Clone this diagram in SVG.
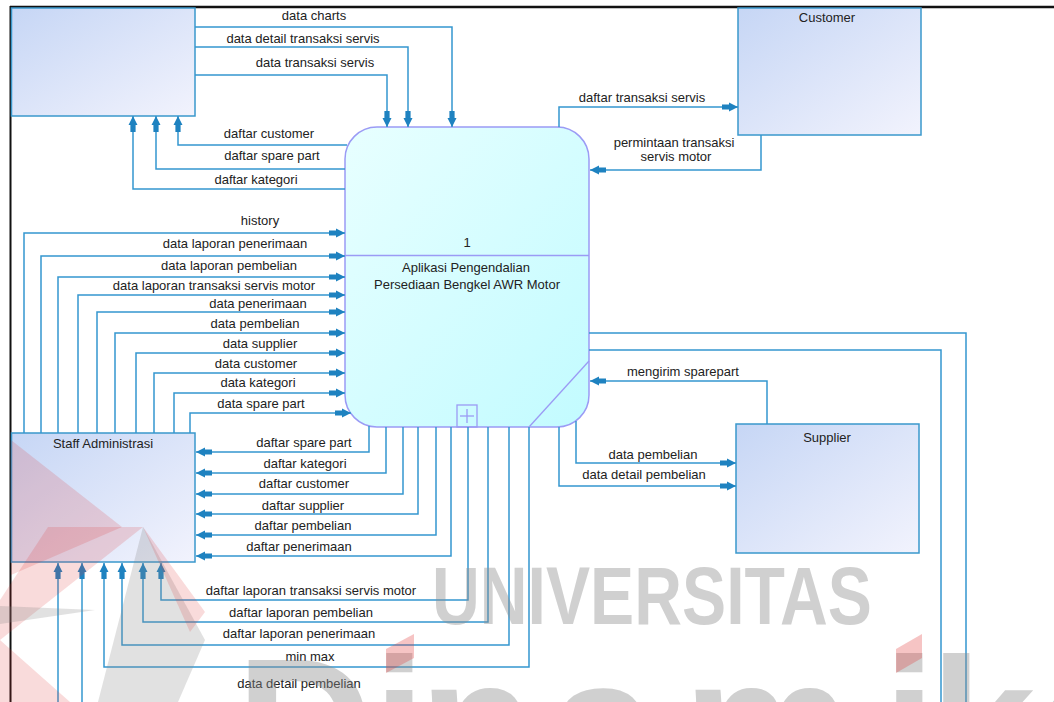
<svg xmlns="http://www.w3.org/2000/svg" width="1054" height="702" viewBox="0 0 1054 702">
<defs>
<linearGradient id="gEnt" x1="0" y1="0" x2="1" y2="1">
<stop offset="0" stop-color="#c6d6f5"/>
<stop offset="1" stop-color="#f2f3fd"/>
</linearGradient>
<linearGradient id="gProc" x1="0" y1="0" x2="1" y2="1">
<stop offset="0" stop-color="#e8ffff"/>
<stop offset="1" stop-color="#c2fbff"/>
</linearGradient>
<marker id="arr" viewBox="-17 -6 18 12" refX="0" refY="0" markerWidth="18" markerHeight="12" markerUnits="userSpaceOnUse" orient="auto">
<path d="M0,0 L-9,-4.5 L-9,-2.6 L-16,-2.6 L-16,2.6 L-9,2.6 L-9,4.5 Z" fill="#1e82c0"/>
</marker>
<style>
.ent{fill:url(#gEnt);stroke:#3a98cc;stroke-width:1.5}
.proc{fill:url(#gProc);stroke:#9b9bf5;stroke-width:1.5}
.pl{fill:none;stroke:#9b9bf5;stroke-width:1.3}
.c path{fill:none;stroke:#3497cf;stroke-width:1.5;marker-end:url(#arr)}
.c path.n{marker-end:none}
text{font-family:"Liberation Sans",Arial,sans-serif;font-size:13px;fill:#222;text-anchor:middle}
text.wm1{font-size:82px;font-weight:bold;fill:#8c8c8c;opacity:0.4;text-anchor:start}
text.wm2{font-size:190px;font-weight:bold;fill:#8c8c8c;opacity:0.4;text-anchor:start}
</style>
</defs>
<rect x="0" y="0" width="1054" height="702" fill="#ffffff"/>
<line x1="10" y1="7" x2="1054" y2="7" stroke="#111" stroke-width="2.5"/>
<line x1="10.5" y1="6" x2="10.5" y2="702" stroke="#111" stroke-width="2"/>

<g id="entity-top">
<rect class="ent" x="11.5" y="8" width="183.5" height="108"/>
</g>
<g id="customer">
<rect class="ent" x="738" y="8" width="183" height="127"/>
<text x="827" y="22">Customer</text>
</g>
<g id="process-1">
<rect class="proc" x="345" y="127" width="244" height="300" rx="32" ry="32"/>
<line class="pl" x1="345" y1="255.5" x2="589" y2="255.5"/>
<line class="pl" x1="529" y1="427" x2="589" y2="361"/>
<rect class="pl" x="457" y="405" width="20" height="22" fill="#d8fbff"/>
<line class="pl" x1="467" y1="409" x2="467" y2="423"/>
<line class="pl" x1="460" y1="416" x2="474" y2="416"/>
<text x="467" y="247">1</text>
<text x="466" y="272">Aplikasi Pengendalian</text>
<text x="467" y="289">Persediaan Bengkel AWR Motor</text>
</g>
<g id="staff-administrasi">
<rect class="ent" x="11.5" y="433" width="183.5" height="129"/>
<text x="103" y="448">Staff Administrasi</text>
</g>
<g id="supplier">
<rect class="ent" x="736" y="424" width="183" height="129"/>
<text x="827" y="442">Supplier</text>
</g>

<g id="connectors" class="c">
<path d="M195,27 H452 V127"/>
<path d="M195,47 H408 V127"/>
<path d="M195,75 H387 V127"/>
<path d="M347,145 H178 V116"/>
<path d="M345,169 H156 V116"/>
<path d="M345,189 H133 V116"/>
<path d="M559,127 V107 H738"/>
<path d="M761,135 V170 H590"/>
<path d="M24,433 V233 H345"/>
<path d="M41,433 V256 H345"/>
<path d="M58,433 V277 H345"/>
<path d="M78,433 V295 H345"/>
<path d="M97,433 V312 H345"/>
<path d="M115,433 V333 H345"/>
<path d="M136,433 V353 H345"/>
<path d="M154,433 V373 H345"/>
<path d="M174,433 V393 H345"/>
<path d="M190,433 V413 H351"/>
<path d="M369,426 V452 H196"/>
<path d="M386,427 V473 H196"/>
<path d="M403,427 V494 H196"/>
<path d="M418,427 V514 H196"/>
<path d="M436,427 V535 H196"/>
<path d="M451,427 V556 H196"/>
<path d="M468,427 V600 H161 V563"/>
<path d="M488,427 V622 H143 V563"/>
<path d="M509,427 V645 H122 V563"/>
<path d="M529,427 V667 H104 V563"/>
<path d="M576,421 V463 H736"/>
<path d="M559,427 V486 H736"/>
<path d="M767,424 V381 H590"/>
<path class="n" d="M589,333 H966 V702"/>
<path class="n" d="M589,350 H941 V702"/>
<path d="M58,702 V563"/>
<path d="M82,702 V563"/>
</g>

<g id="connector-labels">
<text x="314" y="20">data charts</text>
<text x="303" y="43">data detail transaksi servis</text>
<text x="315" y="67">data transaksi servis</text>
<text x="269" y="138">daftar customer</text>
<text x="272" y="160">daftar spare part</text>
<text x="256" y="184">daftar kategori</text>
<text x="642" y="102">daftar transaksi servis</text>
<text x="674" y="147">permintaan transaksi</text>
<text x="676" y="161">servis motor</text>
<text x="260" y="225">history</text>
<text x="235" y="248">data laporan penerimaan</text>
<text x="229" y="270">data laporan pembelian</text>
<text x="214" y="290">data laporan transaksi servis motor</text>
<text x="258" y="308">data penerimaan</text>
<text x="255" y="328">data pembelian</text>
<text x="260" y="348">data supplier</text>
<text x="256" y="368">data customer</text>
<text x="258" y="387">data kategori</text>
<text x="261" y="408">data spare part</text>
<text x="304" y="447">daftar spare part</text>
<text x="305" y="468">daftar kategori</text>
<text x="304" y="488">daftar customer</text>
<text x="303" y="510">daftar supplier</text>
<text x="303" y="530">daftar pembelian</text>
<text x="299" y="551">daftar penerimaan</text>
<text x="311" y="595">daftar laporan transaksi servis motor</text>
<text x="301" y="617">daftar laporan pembelian</text>
<text x="299" y="638">daftar laporan penerimaan</text>
<text x="310" y="661">min max</text>
<text x="299" y="688">data detail pembelian</text>
<text x="683" y="376">mengirim sparepart</text>
<text x="653" y="459">data pembelian</text>
<text x="644" y="479">data detail pembelian</text>
</g>

<g id="watermark">
<polygon points="11,440 122,527 11,575" fill="#e03a3a" opacity="0.18"/>
<polygon points="143,527 48,527 0,600 0,640" fill="#e03a3a" opacity="0.18"/>
<polygon points="0,606 95,610 0,624" fill="#888" opacity="0.25"/>
<polygon points="143,527 98,702 178,702 205,640" fill="#888" opacity="0.25"/>
<polygon points="143,527 205,612 190,632" fill="#e03a3a" opacity="0.18"/>
<polygon points="0,640 70,702 0,702" fill="#e03a3a" opacity="0.18"/>
<text class="wm1" x="432" y="624" textLength="440" lengthAdjust="spacingAndGlyphs">UNIVERSITAS</text>
<text class="wm2" x="236 373 419 550 683 883 930" y="790">Dinamika</text>
<polygon points="386,649 414,634 414,658 386,673" fill="#e03a3a" opacity="0.3"/>
<polygon points="896,649 922,634 922,658 896,673" fill="#e03a3a" opacity="0.3"/>
</g>
</svg>
